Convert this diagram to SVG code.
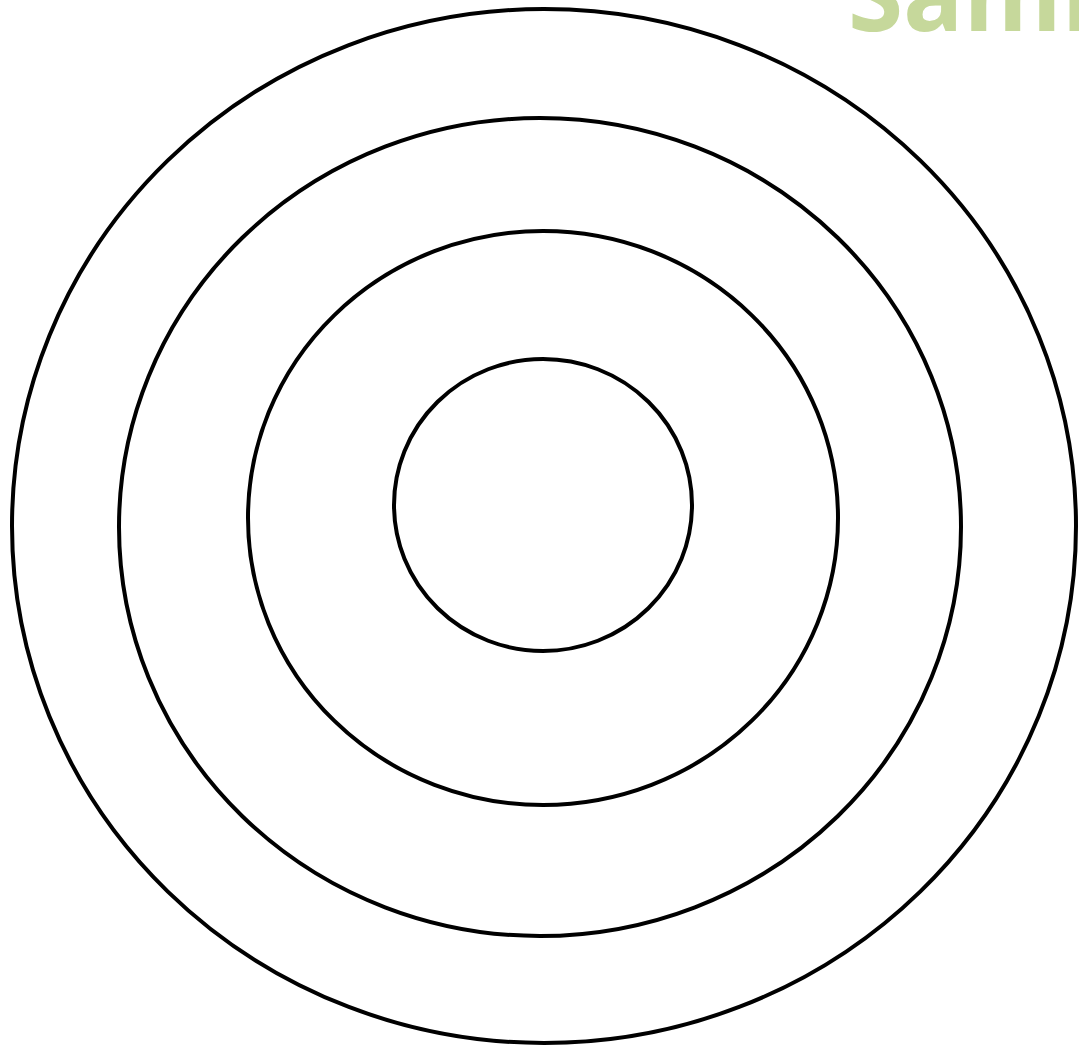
<svg xmlns="http://www.w3.org/2000/svg" width="1079" height="1050" viewBox="0 0 1079 1050">
<style>
.ring{fill:none;stroke:#000;stroke-width:4}
.title{font-family:"Open Sans","Liberation Sans",sans-serif;font-weight:bold;font-size:100px;fill:#c6d89b}
</style>
<rect width="1079" height="1050" fill="#fff"/>
<g id="ring-outer"><ellipse class="ring" cx="544" cy="526" rx="532" ry="517"/></g>
<g id="ring-2"><ellipse class="ring" cx="540" cy="527" rx="421" ry="409"/></g>
<g id="ring-3"><ellipse class="ring" cx="543" cy="518" rx="295" ry="287"/></g>
<g id="ring-inner"><ellipse class="ring" cx="543" cy="505" rx="149" ry="146"/></g>
<g id="connectors"></g>
<text class="title" x="848" y="31">Sami</text>
</svg>
